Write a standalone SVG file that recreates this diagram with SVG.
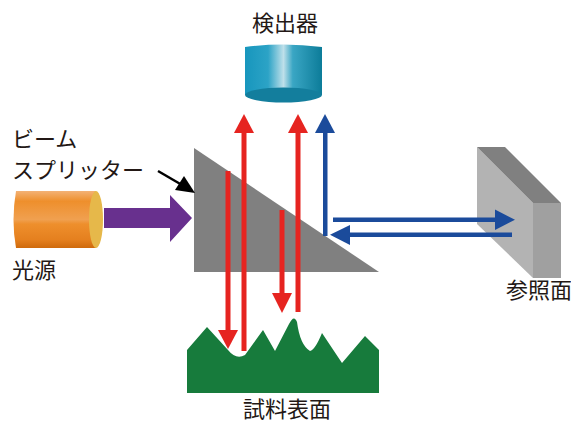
<svg xmlns="http://www.w3.org/2000/svg" width="571" height="424" viewBox="0 0 571 424">
  <style>
    .lbl { font-family: "Noto Sans CJK JP", "Noto Sans", sans-serif; font-size: 22px; fill: #231815; }
    .red { fill: #e62420; }
    .blue { fill: #1b4b9b; }
  </style>
  <defs>
    <linearGradient id="detBody" x1="0" y1="0" x2="1" y2="0">
      <stop offset="0" stop-color="#1796bd"/>
      <stop offset="0.3" stop-color="#2ca3c6"/>
      <stop offset="0.5" stop-color="#bfe0ea"/>
      <stop offset="0.62" stop-color="#3aa6c4"/>
      <stop offset="1" stop-color="#0c7c99"/>
    </linearGradient>
    <linearGradient id="srcBody" x1="0" y1="0" x2="0" y2="1">
      <stop offset="0" stop-color="#f3b276"/>
      <stop offset="0.18" stop-color="#ee8f2c"/>
      <stop offset="0.5" stop-color="#f0a050"/>
      <stop offset="0.58" stop-color="#ee8f2c"/>
      <stop offset="0.85" stop-color="#e5801f"/>
      <stop offset="1" stop-color="#cf6a0c"/>
    </linearGradient>
  </defs>

  <!-- detector -->
  <g id="detector">
    <path d="M245,47 Q283,42 322,47 L322,95 L245,95 Z" fill="url(#detBody)"/>
    <ellipse cx="283.5" cy="95" rx="38.5" ry="7.5" fill="#137e9d"/>
    <text class="lbl" x="285" y="31" text-anchor="middle">検出器</text>
  </g>

  <!-- light source -->
  <g id="source">
    <path d="M96,191 L16,191 Q11,220 16,248 L96,248 Z" fill="url(#srcBody)"/>
    <ellipse cx="96" cy="219.5" rx="7" ry="28.5" fill="#e6b84a"/>
    <text class="lbl" x="12" y="278">光源</text>
  </g>

  <!-- beam splitter -->
  <g id="splitter">
    <polygon points="194,148 194,272 379,272" fill="#808080"/>
    <text class="lbl" x="12" y="147">ビーム</text>
    <text class="lbl" x="12" y="178">スプリッター</text>
  </g>

  <!-- reference mirror -->
  <g id="mirror">
    <polygon points="477,147 533,203 533,278 477,224" fill="#b3b3b3"/>
    <polygon points="533,203 561,203 561,278 533,278" fill="#a0a0a0"/>
    <polygon points="477,147 505,147 561,203 533,203" fill="#808080"/>
    <text class="lbl" x="506" y="298">参照面</text>
  </g>

  <!-- sample surface -->
  <g id="sample">
    <path d="M187,350 L207,327 L228,350 Q236,360 245,355 L263,330 L275,351 L289,324 Q294,314 297,322 Q300,345 310,351 Q315,350 322,333 L342,363 L365,336 L379,350 L379,393 L187,393 Z" fill="#177b3c"/>
    <text class="lbl" x="287" y="417" text-anchor="middle">試料表面</text>
  </g>

  <!-- beams -->
  <g id="connectors">
    <!-- input beam -->
    <polygon points="104,208 170,208 170,195 192,218 170,242 170,228 104,228" fill="#68308e"/>
    <!-- pointer to splitter -->
    <line x1="158" y1="171" x2="182" y2="185" stroke="#000" stroke-width="2.5"/>
    <polygon points="195,193 175,190 184,176" fill="#000"/>
    <!-- red beams -->
    <rect class="red" x="225.5" y="171" width="5" height="160"/>
    <polygon class="red" points="218,330 238,330 228,349"/>
    <rect class="red" x="241.5" y="132" width="5" height="219"/>
    <polygon class="red" points="234,133 254,133 244,114"/>
    <rect class="red" x="279.5" y="210" width="5" height="84"/>
    <polygon class="red" points="272,293 292,293 282,313"/>
    <rect class="red" x="295.5" y="132" width="5" height="180"/>
    <polygon class="red" points="288,133 308,133 298,114"/>
    <!-- blue beams -->
    <rect class="blue" x="323" y="132" width="4.5" height="104"/>
    <polygon class="blue" points="315,133 335,133 325,114"/>
    <rect class="blue" x="333" y="217.5" width="163" height="4.5"/>
    <polygon class="blue" points="495,209.5 515,219.8 495,230"/>
    <rect class="blue" x="349" y="232.5" width="163" height="4.5"/>
    <polygon class="blue" points="350,225 330,234.8 350,245"/>
  </g>
</svg>
